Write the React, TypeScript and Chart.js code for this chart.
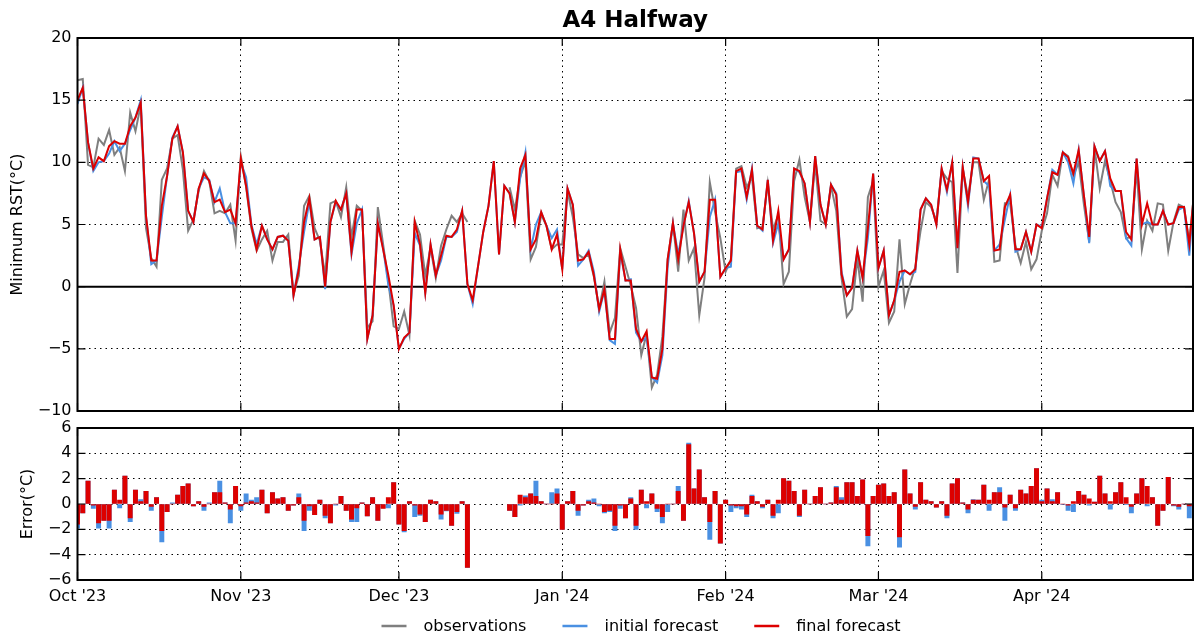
import React, { useEffect, useRef } from "react";
import { Chart, registerables } from "chart.js";

Chart.register(...registerables);

// ---- axis ticks / labels ----
const monthTicks = [0, 31, 61, 92, 123, 152, 183];
const monthLabels = ["Oct '23", "Nov '23", "Dec '23", "Jan '24", "Feb '24", "Mar '24", "Apr '24"];
const topYTicks = [-10, -5, 0, 5, 10, 15, 20];
const errYTicks = [-6, -4, -2, 0, 2, 4, 6];
const legendLabels = ["observations", "initial forecast", "final forecast"];

// ---- series (day index 0 = 1 Oct 2023) ----
const observations = [
  16.6, 16.7, 9.8, 9.6, 11.9, 11.4, 12.6, 10.6, 11.2, 9.3,
  14.0, 12.5, 14.6, 4.7, 2.3, 1.6, 8.6, 9.5, 11.9, 12.2,
  9.4, 4.5, 5.4, 7.7, 9.3, 8.5, 5.9, 6.1, 5.9, 6.6,
  3.7, 10.5, 8.0, 4.7, 2.9, 3.8, 4.5, 2.1, 3.6, 3.6,
  4.2, -0.6, 0.9, 6.5, 7.3, 4.7, 3.7, 0.9, 6.7, 6.9,
  5.6, 8.0, 4.0, 6.5, 6.1, -3.3, -2.8, 6.4, 3.4, 0.4,
  -3.2, -3.4, -2.0, -3.9, 5.3, 4.2, 0.9, 3.1, 0.7, 3.3,
  4.6, 5.7, 5.2, 5.9, 5.2, null, null, null, null, null,
  null, null, 8.0, 6.2, 8.8, 10.1, 2.2, 3.2, 5.8, 4.9,
  3.0, 3.4, 3.4, 7.7, 5.6, 2.6, 2.3, 2.6, 0.8, -1.8,
  0.4, -3.7, -2.5, 3.1, 1.6, 0.1, -1.7, -5.5, -3.8, -8.1,
  -7.1, -4.0, 2.2, 5.1, 1.2, 6.2, 2.1, 3.1, -2.3, 0.7,
  8.4, 6.0, 3.9, 1.2, 2.2, 9.5, 9.7, 8.0, 8.8, 4.7,
  4.8, 8.3, 4.6, 5.8, 0.2, 1.2, 8.5, 10.2, 7.2, 5.2,
  9.9, 5.3, 5.0, 8.1, 6.1, 0.7, -2.4, -1.8, 2.3, -1.2,
  7.2, 8.5, 0.0, 1.3, -2.9, -2.0, 3.8, -1.4, 0.2, 1.6,
  4.5, 6.8, 6.4, 5.3, 9.3, 8.7, 8.4, 1.1, 9.5, 7.2,
  10.0, 10.0, 7.0, 8.6, 2.0, 2.1, 6.7, 6.7, 3.3, 1.9,
  3.6, 1.4, 2.2, 4.5, 5.9, 9.0, 8.1, 10.8, 10.5, 8.9,
  10.0, 6.6, 3.6, 11.2, 7.9, 10.1, 8.5, 6.8, 6.0, 3.9,
  4.0, 9.5, 3.0, 5.3, 4.5, 6.7, 6.6, 2.9, 5.2, 6.6,
  6.4, 3.6, 8.0,
];

const initialForecast = [
  14.7, 16.0, 11.6, 9.3, 10.0, 10.1, 10.7, 11.7, 10.9, 11.5,
  12.6, 13.6, 15.0, 5.7, 1.8, 2.1, 5.6, 8.9, 12.0, 12.9,
  10.8, 6.1, 5.2, 7.9, 8.8, 8.6, 6.8, 7.9, 6.0, 5.1,
  5.1, 10.0, 8.8, 5.0, 3.4, 4.9, 3.8, 3.0, 4.0, 4.1,
  3.7, -0.7, 1.7, 4.4, 6.8, 3.8, 4.0, -0.2, 5.2, 6.8,
  6.2, 7.5, 2.6, 5.1, 6.2, -4.2, -2.3, 5.1, 3.1, 0.1,
  -1.5, -5.0, -4.2, -3.7, 4.3, 3.3, -0.5, 3.4, 0.9, 2.1,
  4.0, 4.0, 4.4, 6.1, 0.2, -1.4, 1.6, 4.4, 6.5, 10.1,
  2.6, 8.1, 7.5, 5.2, 8.7, 10.8, 3.0, 5.0, 6.0, 4.9,
  3.9, 4.6, 1.4, 7.9, 6.6, 1.7, 2.2, 2.9, 1.2, -2.0,
  -0.3, -4.3, -4.6, 2.8, 0.5, 0.6, -3.7, -4.4, -4.1, -7.3,
  -7.7, -5.5, 1.6, 5.1, 2.6, 4.9, 6.9, 4.3, 0.4, 1.2,
  5.6, 7.0, 0.8, 1.5, 1.6, 9.2, 9.3, 7.0, 9.5, 4.9,
  4.5, 8.6, 3.5, 5.1, 2.2, 3.0, 9.5, 9.2, 8.3, 5.2,
  10.5, 6.6, 5.0, 8.2, 7.5, 1.2, -0.7, -0.1, 2.9, 0.7,
  3.9, 9.1, 1.5, 2.9, -2.3, -1.1, 0.4, 1.3, 1.0, 1.2,
  6.2, 7.1, 6.6, 5.0, 9.5, 7.6, 10.0, 3.1, 9.6, 6.5,
  10.4, 10.3, 8.5, 8.1, 2.9, 3.4, 5.4, 7.4, 2.8, 3.0,
  4.4, 2.8, 5.0, 4.8, 7.1, 9.4, 9.0, 10.8, 10.0, 8.3,
  11.0, 7.3, 3.5, 11.3, 10.1, 10.9, 8.1, 7.7, 7.7, 3.9,
  3.3, 10.3, 5.0, 5.2, 5.0, 5.0, 6.1, 5.0, 5.1, 6.2,
  6.4, 2.5, 8.0,
];

const finalForecast = [
  15.0, 16.0, 11.6, 9.5, 10.4, 10.1, 11.3, 11.7, 11.5, 11.5,
  12.9, 13.6, 14.8, 5.7, 2.1, 2.1, 6.5, 8.9, 11.9, 12.9,
  10.8, 6.1, 5.2, 7.9, 9.1, 8.5, 6.8, 7.0, 6.0, 6.2,
  5.1, 10.3, 8.1, 4.9, 3.0, 4.9, 3.8, 3.0, 4.0, 4.1,
  3.7, -0.7, 1.4, 5.2, 7.1, 3.8, 4.0, 0.0, 5.2, 6.9,
  6.2, 7.5, 2.8, 6.2, 6.2, -4.2, -2.3, 5.1, 3.0, 0.9,
  -1.5, -5.0, -4.1, -3.7, 5.2, 3.4, -0.5, 3.4, 0.9, 2.5,
  4.1, 4.0, 4.6, 6.1, 0.2, -1.1, 1.6, 4.4, 6.5, 10.1,
  2.6, 8.1, 7.5, 5.2, 9.5, 10.6, 3.0, 3.8, 6.0, 4.9,
  3.0, 4.2, 1.4, 7.9, 6.6, 2.1, 2.2, 2.8, 0.9, -1.8,
  -0.2, -4.2, -4.2, 3.0, 0.5, 0.5, -3.4, -4.4, -3.6, -7.3,
  -7.4, -5.0, 2.2, 5.1, 2.2, 4.9, 6.8, 4.3, 0.4, 1.2,
  7.0, 7.0, 0.8, 1.5, 2.1, 9.3, 9.5, 7.2, 9.4, 4.9,
  4.6, 8.6, 3.7, 6.1, 2.2, 3.0, 9.5, 9.3, 8.3, 5.2,
  10.5, 6.6, 5.0, 8.2, 7.4, 1.0, -0.7, -0.1, 2.9, 0.7,
  4.7, 9.1, 1.5, 2.9, -2.3, -1.1, 1.2, 1.3, 1.0, 1.4,
  6.2, 7.1, 6.6, 5.0, 9.5, 7.8, 10.0, 3.1, 9.6, 6.8,
  10.3, 10.3, 8.5, 8.9, 2.9, 3.0, 6.4, 7.4, 3.0, 3.0,
  4.4, 2.8, 5.0, 4.7, 7.1, 9.2, 9.0, 10.8, 10.4, 9.1,
  11.0, 7.3, 4.0, 11.3, 10.1, 10.9, 8.7, 7.7, 7.7, 4.4,
  3.8, 10.3, 5.0, 6.7, 5.0, 5.0, 6.1, 5.0, 5.1, 6.4,
  6.4, 3.4, 8.0,
];

const initialError = [
  -1.9, -0.7, 1.8, -0.35, -1.9, -1.3, -1.9, 1.1, -0.3, 2.2,
  -1.4, 1.1, 0.35, 1.0, -0.5, 0.5, -3.0, -0.6, 0.1, 0.7,
  1.4, 1.6, -0.15, 0.2, -0.5, 0.1, 0.9, 1.8, 0.1, -1.5,
  1.4, -0.5, 0.8, 0.3, 0.5, 1.1, -0.7, 0.9, 0.4, 0.5,
  -0.5, -0.1, 0.8, -2.1, -0.5, -0.85, 0.3, -1.1, -1.5, -0.1,
  0.6, -0.5, -1.4, -1.4, 0.1, -0.95, 0.5, -1.3, -0.3, -0.3,
  1.7, -1.6, -2.2, 0.2, -1.0, -0.9, -1.4, 0.3, 0.2, -1.2,
  -0.55, -1.7, -0.75, 0.2, -5.0, null, null, null, null, null,
  null, null, -0.5, -1.0, -0.1, 0.65, 0.8, 1.8, 0.2, 0.0,
  0.9, 1.2, -2.0, 0.2, 1.0, -0.9, -0.1, 0.3, 0.4, -0.15,
  -0.7, -0.6, -2.1, -0.35, -1.1, 0.5, -2.0, 1.1, -0.3, 0.8,
  -0.6, -1.5, -0.6, 0.0, 1.4, -1.3, 4.8, 1.2, 2.7, 0.5,
  -2.8, 1.0, -3.1, 0.3, -0.6, -0.3, -0.4, -1.0, 0.7, 0.2,
  -0.3, 0.3, -1.1, -0.7, 2.0, 1.8, 1.0, -1.0, 1.1, 0.0,
  0.6, 1.3, 0.0, 0.1, 1.4, 0.5, 1.7, 1.7, 0.6, 1.9,
  -3.3, 0.6, 1.5, 1.6, 0.6, 0.9, -3.4, 2.7, 0.8, -0.4,
  1.7, 0.3, 0.2, -0.25, 0.2, -1.1, 1.6, 2.0, 0.1, -0.7,
  0.35, 0.3, 1.5, -0.5, 0.9, 1.3, -1.3, 0.7, -0.5, 1.1,
  0.8, 1.4, 2.8, 0.3, 1.2, 0.35, 0.9, -0.05, -0.5, -0.6,
  1.0, 0.7, -0.1, 0.15, 2.2, 0.8, -0.4, 0.9, 1.7, -0.05,
  -0.7, 0.8, 2.0, -0.15, 0.5, -1.7, -0.5, 2.1, -0.15, -0.4,
  0.0, -1.1, 0.0,
];

const finalError = [
  -1.6, -0.7, 1.8, -0.1, -1.5, -1.3, -1.3, 1.1, 0.3, 2.2,
  -1.1, 1.1, 0.2, 1.0, -0.2, 0.5, -2.1, -0.6, 0.0, 0.7,
  1.4, 1.6, -0.15, 0.2, -0.2, 0.0, 0.9, 0.9, 0.1, -0.4,
  1.4, -0.15, 0.1, 0.2, 0.1, 1.1, -0.7, 0.9, 0.4, 0.5,
  -0.5, -0.1, 0.5, -1.3, -0.15, -0.85, 0.3, -0.9, -1.5, 0.0,
  0.6, -0.5, -1.2, -0.3, 0.1, -0.95, 0.5, -1.3, -0.35, 0.5,
  1.7, -1.6, -2.1, 0.2, -0.1, -0.8, -1.4, 0.3, 0.2, -0.8,
  -0.5, -1.7, -0.6, 0.2, -5.0, null, null, null, null, null,
  null, null, -0.5, -1.0, 0.7, 0.5, 0.8, 0.6, 0.2, 0.0,
  0.0, 0.8, -2.0, 0.2, 1.0, -0.5, -0.1, 0.2, 0.1, 0.0,
  -0.6, -0.5, -1.7, -0.1, -1.1, 0.4, -1.7, 1.1, 0.2, 0.8,
  -0.35, -1.0, 0.0, 0.0, 1.0, -1.3, 4.7, 1.2, 2.7, 0.5,
  -1.4, 1.0, -3.1, 0.3, -0.1, -0.15, -0.15, -0.8, 0.6, 0.2,
  -0.2, 0.3, -0.9, 0.3, 2.0, 1.8, 1.0, -0.9, 1.1, 0.0,
  0.6, 1.3, 0.0, 0.1, 1.3, 0.3, 1.7, 1.7, 0.6, 1.9,
  -2.5, 0.6, 1.5, 1.6, 0.6, 0.9, -2.6, 2.7, 0.8, -0.2,
  1.7, 0.3, 0.2, -0.25, 0.2, -0.9, 1.6, 2.0, 0.1, -0.4,
  0.3, 0.3, 1.5, 0.3, 0.9, 0.9, -0.25, 0.7, -0.3, 1.1,
  0.8, 1.4, 2.8, 0.2, 1.2, 0.2, 0.9, 0.0, -0.1, 0.2,
  1.0, 0.7, 0.4, 0.15, 2.2, 0.8, 0.2, 0.9, 1.7, 0.5,
  -0.2, 0.8, 2.0, 1.4, 0.5, -1.7, -0.5, 2.1, -0.1, -0.2,
  0.0, -0.15, 0.0,
];

// ---- styling ----
const FONT = "'DejaVu Sans', sans-serif";
const GRAY = "#7f7f7f";
const BLUE = "#4a90e2";
const RED = "#dd0000";
const X_MAX = 211.7;
const AXIS_W = 77.5;

const toXY = (arr: (number | null)[]) => arr.map((v, i) => ({ x: i, y: v }));
const fmt = (v: number) => (v < 0 ? "\u2212" + Math.abs(v) : String(v));

const gridOpts = { color: "#000", lineWidth: 1, drawTicks: false };
const borderOpts = { display: false, dash: [1.5, 4] };

function framePlugin(kind: "top" | "bottom") {
  return {
    id: "frame_" + kind,
    beforeDatasetsDraw(chart: any) {
      if (kind !== "top") return;
      const { ctx, chartArea } = chart;
      const y = chart.scales.y.getPixelForValue(0);
      ctx.save();
      ctx.strokeStyle = "#000";
      ctx.lineWidth = 2;
      ctx.beginPath();
      ctx.moveTo(chartArea.left, y);
      ctx.lineTo(chartArea.right, y);
      ctx.stroke();
      ctx.restore();
    },
    afterDraw(chart: any) {
      const { ctx, chartArea } = chart;
      const { left, right, top, bottom } = chartArea;
      ctx.save();
      ctx.strokeStyle = "#000";
      ctx.lineWidth = 1.2;
      const yt = kind === "top" ? topYTicks : errYTicks;
      const L = 8;
      ctx.beginPath();
      for (const v of yt) {
        const y = chart.scales.y.getPixelForValue(v);
        ctx.moveTo(left, y);
        ctx.lineTo(left + L, y);
        ctx.moveTo(right, y);
        ctx.lineTo(right - L, y);
      }
      for (const v of monthTicks) {
        const x = chart.scales.x.getPixelForValue(v);
        ctx.moveTo(x, top);
        ctx.lineTo(x, top + L);
        ctx.moveTo(x, bottom);
        ctx.lineTo(x, bottom - L);
      }
      ctx.stroke();
      ctx.lineWidth = 2;
      ctx.strokeRect(left, top, right - left, bottom - top);

      if (kind === "top") {
        ctx.fillStyle = "#000";
        ctx.font = "bold 23px " + FONT;
        ctx.textAlign = "center";
        ctx.textBaseline = "middle";
        ctx.fillText("A4 Halfway", (left + right) / 2, 21);
      } else {
        ctx.font = "16px " + FONT;
        ctx.textBaseline = "middle";
        ctx.textAlign = "left";
        const colors = [GRAY, BLUE, RED];
        const lineLen = 25;
        const gapText = 17;
        const gapItem = 36;
        const widths = legendLabels.map((t) => ctx.measureText(t).width);
        const total =
          widths.reduce((a, b) => a + b, 0) + legendLabels.length * (lineLen + gapText) + (legendLabels.length - 1) * gapItem;
        let x = 641 - total / 2;
        const y = 216;
        legendLabels.forEach((t, i) => {
          ctx.strokeStyle = colors[i];
          ctx.lineWidth = 2.5;
          ctx.beginPath();
          ctx.moveTo(x, y);
          ctx.lineTo(x + lineLen, y);
          ctx.stroke();
          ctx.fillStyle = "#000";
          ctx.fillText(t, x + lineLen + gapText, y + 1);
          x += lineLen + gapText + widths[i] + gapItem;
        });
      }
      ctx.restore();
    },
  };
}

function setMonthTicks(scale: any) {
  scale.ticks = monthTicks.map((v) => ({ value: v }));
}

export default function App() {
  const topRef = useRef<HTMLCanvasElement>(null);
  const botRef = useRef<HTMLCanvasElement>(null);

  useEffect(() => {
    Chart.defaults.font.family = FONT;
    Chart.defaults.font.size = 16;
    Chart.defaults.color = "#000";

    const lineDs = (label: string, data: (number | null)[], color: string, order: number) => ({
      label,
      data: toXY(data),
      borderColor: color,
      backgroundColor: color,
      borderWidth: 2,
      pointRadius: 0,
      tension: 0,
      spanGaps: false,
      order,
      clip: 0,
    });

    const top = new Chart(topRef.current as HTMLCanvasElement, {
      type: "line",
      data: {
        datasets: [
          lineDs(legendLabels[0], observations, GRAY, 2),
          lineDs(legendLabels[1], initialForecast, BLUE, 1),
          lineDs(legendLabels[2], finalForecast, RED, 0),
        ] as any,
      },
      options: {
        animation: false,
        responsive: false,
        layout: { padding: { top: 38, right: 1, left: 0, bottom: 0 } },
        plugins: { legend: { display: false }, tooltip: { enabled: false }, title: { display: false } },
        scales: {
          x: {
            type: "linear",
            min: 0,
            max: X_MAX,
            afterBuildTicks: setMonthTicks,
            ticks: { display: false },
            grid: gridOpts,
            border: borderOpts,
            afterFit: (s: any) => {
              s.height = 29;
            },
          } as any,
          y: {
            min: -10,
            max: 20,
            ticks: { stepSize: 5, padding: 6, callback: (v: any) => fmt(Number(v)) },
            grid: gridOpts,
            border: borderOpts,
            title: { display: true, text: "Minimum RST(°C)", padding: { top: 8, bottom: 0 }, font: { size: 16 } },
            afterFit: (s: any) => {
              s.width = AXIS_W;
            },
          } as any,
        },
      },
      plugins: [framePlugin("top")],
    });

    const bot = new Chart(botRef.current as HTMLCanvasElement, {
      type: "bar",
      data: {
        datasets: [
          {
            label: "final forecast error",
            data: toXY(finalError),
            backgroundColor: RED,
            barThickness: 4.3,
            grouped: false,
            order: 0,
            clip: 0,
          },
          {
            label: "initial forecast error",
            data: toXY(initialError),
            backgroundColor: BLUE,
            barThickness: 4.3,
            grouped: false,
            order: 1,
            clip: 0,
          },
        ] as any,
      },
      options: {
        animation: false,
        responsive: false,
        layout: { padding: { top: 18, right: 1, left: 0, bottom: 0 } },
        plugins: { legend: { display: false }, tooltip: { enabled: false }, title: { display: false } },
        scales: {
          x: {
            type: "linear",
            offset: false,
            min: 0,
            max: X_MAX,
            afterBuildTicks: setMonthTicks,
            ticks: {
              padding: 7,
              autoSkip: false,
              maxRotation: 0,
              callback: (v: any) => monthLabels[monthTicks.indexOf(Number(v))],
            },
            grid: { ...gridOpts, offset: false },
            border: borderOpts,
            afterFit: (s: any) => {
              s.height = 58;
            },
          } as any,
          y: {
            min: -6,
            max: 6,
            ticks: { stepSize: 2, padding: 6, callback: (v: any) => fmt(Number(v)) },
            grid: gridOpts,
            border: borderOpts,
            title: { display: true, text: "Error(°C)", padding: { top: 18, bottom: 0 }, font: { size: 16 } },
            afterFit: (s: any) => {
              s.width = AXIS_W;
            },
          } as any,
        },
      },
      plugins: [framePlugin("bottom")],
    });

    return () => {
      top.destroy();
      bot.destroy();
    };
  }, []);

  return (
    <div style={{ position: "absolute", left: 0, top: 0, width: 1194, height: 638, background: "#fff" }}>
      <canvas
        ref={topRef}
        width={1194}
        height={440}
        style={{ position: "absolute", left: 0, top: 0, width: 1194, height: 440 }}
      />
      <canvas
        ref={botRef}
        width={1194}
        height={228}
        style={{ position: "absolute", left: 0, top: 410, width: 1194, height: 228 }}
      />
    </div>
  );
}
